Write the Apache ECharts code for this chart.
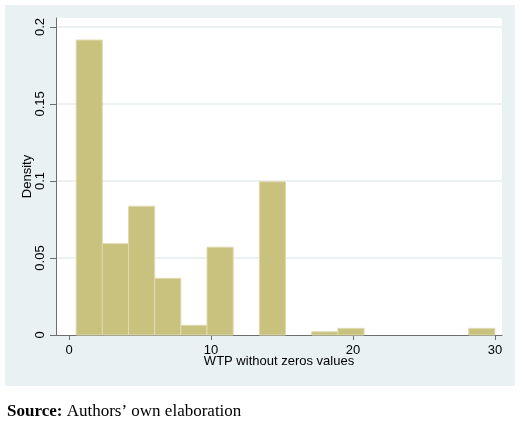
<!DOCTYPE html>
<html>
<head>
<meta charset="utf-8">
<script src="https://cdn.jsdelivr.net/npm/echarts@6/dist/echarts.min.js"></script>
<style>
  html, body { margin: 0; padding: 0; background: #fff; }
  #chart { width: 520px; height: 425px; }
</style>
</head>
<body>
<div id="chart"></div>
<script>
// histogram bins: left edge of each bin, common width, density per bin
var binLeft = [0.5, 2.344, 4.188, 6.031, 7.875, 9.719, 11.563, 13.406,
               15.25, 17.094, 18.938, 20.781, 22.625, 24.469, 26.313, 28.156];
var binWidth = 1.84375;
var density = [0.1915, 0.0593, 0.0836, 0.0368, 0.0063, 0.057, 0, 0.0995,
               0, 0.0021, 0.0043, 0, 0, 0, 0, 0.0043];
var xTicks = [0, 10, 20, 30];
var yTicks = [0, 0.05, 0.1, 0.15, 0.2];

var chart = echarts.init(document.getElementById('chart'), null, { renderer: 'canvas' });

var barData = binLeft.map(function (x, i) { return [x, x + binWidth, density[i]]; });

var axisColor = '#6e6e6e';
var labelFont = 'Liberation Sans, Arial, sans-serif';

var option = {
  backgroundColor: '#ffffff',
  animation: false,
  graphic: [
    {
      type: 'rect',
      left: 5, top: 5,
      shape: { width: 510, height: 381 },
      style: { fill: '#e9f1f3' },
      z: -10
    },
    {
      type: 'rect',
      left: 56, top: 18,
      shape: { width: 446, height: 317 },
      style: { fill: '#ffffff' },
      z: -9
    },
    {
      type: 'text',
      left: 7, top: 403,
      style: {
        text: '{b|Source:} Authors’ own elaboration',
        font: '17px "Liberation Serif", "Times New Roman", serif',
        fill: '#000',
        rich: {
          b: { fontWeight: 'bold', fontSize: 17, fontFamily: 'Liberation Serif' }
        }
      }
    }
  ],
  grid: { left: 56, right: 18, top: 18, bottom: 90 },
  xAxis: {
    type: 'value',
    min: -0.92,
    max: 30.5,
    name: 'WTP without zeros values',
    nameLocation: 'middle',
    nameGap: 20,
    nameMoveOverlap: false,
    nameTextStyle: { color: '#000', fontSize: 13, fontFamily: labelFont },
    axisLine: { show: true, onZero: false, lineStyle: { color: axisColor, width: 1 } },
    axisTick: { show: true, length: 5, customValues: xTicks, lineStyle: { color: axisColor } },
    axisLabel: { customValues: xTicks, margin: 9, color: '#000', fontSize: 13, fontFamily: labelFont },
    splitLine: { show: false }
  },
  yAxis: {
    type: 'value',
    min: 0,
    max: 0.2058,
    interval: 0.05,
    name: 'Density',
    nameLocation: 'middle',
    nameGap: 22,
    nameRotate: 90,
    nameMoveOverlap: false,
    nameTextStyle: { color: '#000', fontSize: 13, fontFamily: labelFont },
    axisLine: { show: true, onZero: false, lineStyle: { color: axisColor, width: 1 } },
    axisTick: { show: true, length: 6, customValues: yTicks, lineStyle: { color: axisColor } },
    axisLabel: {
      customValues: yTicks, rotate: 90, margin: 9, color: '#000',
      fontSize: 13, fontFamily: labelFont
    },
    splitLine: { show: false }
  },
  series: [
    {
      // horizontal grid lines
      type: 'custom',
      z: 1,
      silent: true,
      data: yTicks.slice(1),
      renderItem: function (params, api) {
        var y = api.value(0);
        var p0 = api.coord([-0.92, y]);
        var p1 = api.coord([30.5, y]);
        return {
          type: 'line',
          shape: { x1: p0[0] + 1, y1: p0[1], x2: p1[0], y2: p1[1] },
          style: { stroke: '#e6eef1', lineWidth: 1.5 }
        };
      },
      encode: { y: 0 }
    },
    {
      type: 'custom',
      z: 2,
      data: barData,
      renderItem: function (params, api) {
        var h = api.value(2);
        if (!h) return null;
        var p0 = api.coord([api.value(0), h]);
        var p1 = api.coord([api.value(1), 0]);
        return {
          type: 'rect',
          shape: { x: p0[0], y: p0[1], width: p1[0] - p0[0], height: p1[1] - p0[1] },
          style: { fill: '#c9c27f', stroke: '#dfdab0', lineWidth: 1 }
        };
      },
      encode: { x: [0, 1], y: 2 }
    }
  ]
};

chart.setOption(option);
</script>
</body>
</html>
